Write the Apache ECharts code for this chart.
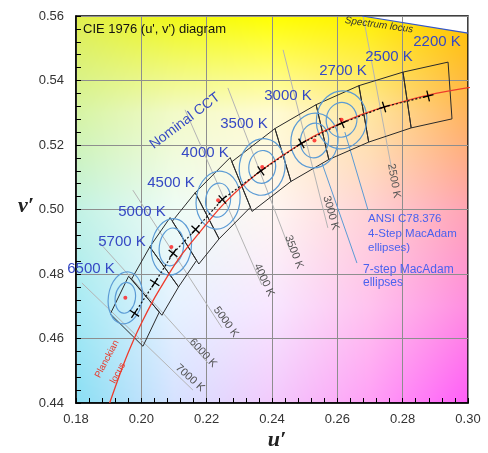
<!DOCTYPE html>
<html><head><meta charset="utf-8">
<script src="https://cdn.jsdelivr.net/npm/echarts@6/dist/echarts.min.js"></script>
<style>html,body{margin:0;padding:0;background:#fff}#c{width:488px;height:453px}</style>
</head><body><div id="c"></div>
<script>
// ================= DATA =================
const uTicks = [0.18, 0.20, 0.22, 0.24, 0.26, 0.28, 0.30];
const vTicks = [0.44, 0.46, 0.48, 0.50, 0.52, 0.54, 0.56];

// Planckian locus (u', v')
const planckT = [10000, 8000, 7000, 6500, 6000, 5700, 5000, 4500, 4000, 3500, 3000, 2700, 2500, 2200, 2000];
const planckU = [0.1903, 0.1946, 0.1981, 0.2004, 0.2033, 0.2054, 0.2114, 0.2176, 0.2251, 0.2357, 0.2505, 0.2625, 0.2722, 0.2878, 0.3051];
const planckV = [0.4400, 0.4521, 0.4606, 0.4655, 0.4712, 0.4749, 0.4847, 0.4926, 0.5016, 0.5113, 0.5214, 0.5274, 0.5311, 0.5355, 0.5386];

// Nominal CCT centres (crosses)
const nominalCCT = ['6500 K', '5700 K', '5000 K', '4500 K', '4000 K', '3500 K', '3000 K', '2700 K', '2500 K', '2200 K'];
const centerU = [0.1979, 0.2041, 0.2097, 0.2166, 0.2248, 0.2366, 0.2490, 0.2614, 0.2743, 0.2878];
const centerV = [0.4678, 0.4773, 0.4864, 0.4938, 0.5031, 0.5120, 0.5205, 0.5268, 0.5318, 0.5352];

// Quadrangle corners, one list of [u', v'] per nominal CCT
const quadCorners = [
  [[0.1961, 0.4793], [0.1905, 0.4676], [0.2005, 0.4576], [0.2055, 0.4682]],
  [[0.2026, 0.4884], [0.1970, 0.4784], [0.2063, 0.4672], [0.2114, 0.4760]],
  [[0.2088, 0.4975], [0.2026, 0.4884], [0.2114, 0.4760], [0.2169, 0.4842]],
  [[0.2165, 0.5052], [0.2095, 0.4964], [0.2176, 0.4831], [0.2238, 0.4909]],
  [[0.2272, 0.5161], [0.2165, 0.5052], [0.2238, 0.4909], [0.2334, 0.5007]],
  [[0.2409, 0.5251], [0.2277, 0.5148], [0.2339, 0.4994], [0.2458, 0.5087]],
  [[0.2535, 0.5325], [0.2409, 0.5251], [0.2458, 0.5087], [0.2574, 0.5155]],
  [[0.2666, 0.5384], [0.2535, 0.5325], [0.2574, 0.5155], [0.2696, 0.5209]],
  [[0.2801, 0.5426], [0.2666, 0.5384], [0.2696, 0.5209], [0.2826, 0.5253]],
  [[0.2939, 0.5457], [0.2801, 0.5426], [0.2826, 0.5253], [0.2951, 0.5281]]
];

// MacAdam ellipses: centres and semi-axes (u', v') for 7-step and 4-step
const ellipseU = [0.1951, 0.2092, 0.2235, 0.2370, 0.2530, 0.2613];
const ellipseV = [0.4726, 0.4884, 0.5029, 0.5132, 0.5214, 0.5278];
const ellipse7 = [[0.0052, 0.0081], [0.0061, 0.0088], [0.0067, 0.0090], [0.0070, 0.0088], [0.0072, 0.0085], [0.0077, 0.0090]];
const ellipse4 = [[0.0031, 0.0048], [0.0037, 0.0059], [0.0038, 0.0053], [0.0041, 0.0051], [0.0043, 0.0054], [0.0047, 0.0054]];

// Isotemperature lines
const isoLabels = ['2500 K', '3000 K', '3500 K', '4000 K', '5000 K', '6000 K', '7000 K'];
const isoStartU = [0.2679, 0.2434, 0.2265, 0.2134, 0.1974, 0.1873, 0.1818];
const isoStartV = [0.5600, 0.5495, 0.5377, 0.5309, 0.5060, 0.4896, 0.4772];
const isoEndU   = [0.2767, 0.2571, 0.2455, 0.2369, 0.2247, 0.2204, 0.2158];
const isoEndV   = [0.5122, 0.4943, 0.4874, 0.4766, 0.4633, 0.4524, 0.4440];

// Spectrum locus segment
const spectrumU = [0.2676, 0.3000];
const spectrumV = [0.5600, 0.5547];

// ================= LAYOUT / STYLE =================
const uMin = 0.18, uMax = 0.30, vMin = 0.44, vMax = 0.56;
const bgPalette = [
  ['#e0ee50', '#f0f818', '#ffff00', '#fff000', '#ffc400'],
  ['#d6f4a4', '#f2fac8', '#fffbd4', '#ffe6a0', '#ffb45c'],
  ['#c2f2e4', '#eefcf6', '#fff6f2', '#ffd2d4', '#ffa4b4'],
  ['#a6eaf4', '#e6f2ff', '#f8e6ff', '#ffc2ee', '#ff8ee0'],
  ['#8adff4', '#d6e2ff', '#f2cafc', '#ffa0f6', '#ff5ef8']
];
const leaderLines = [
  [[0.2623, 0.5240], [0.2694, 0.4998]],
  [[0.2553, 0.5144], [0.2660, 0.4834]]
];
const cctLabelPos = [[91, 269], [122, 242], [142, 212], [171, 183], [205, 153], [244, 124], [288, 96], [343, 71], [389, 57], [437, 42]];
const isoLabelPos = [[394, 181, -80], [331, 213, -74], [294, 252, -69], [264, 280, -65], [226, 322, -54], [203, 353, -47], [190, 378, -42]];

const FONT = 'Liberation Sans, Arial, sans-serif';
const BLUE = '#3548c4';
const deg = Math.PI / 180;

function makeBg(w, h) {
  const c = document.createElement('canvas');
  c.width = w; c.height = h;
  const ctx = c.getContext('2d');
  const img = ctx.createImageData(w, h);
  const rgb = bgPalette.map(r => r.map(hx => [parseInt(hx.slice(1, 3), 16), parseInt(hx.slice(3, 5), 16), parseInt(hx.slice(5, 7), 16)]));
  const R = rgb.length, C = rgb[0].length;
  for (let y = 0; y < h; y++) {
    const fy = y / (h - 1) * (R - 1), r0 = Math.min(Math.floor(fy), R - 2), ty = fy - r0;
    for (let x = 0; x < w; x++) {
      const fx = x / (w - 1) * (C - 1), c0 = Math.min(Math.floor(fx), C - 2), tx = fx - c0;
      const k = (y * w + x) * 4;
      for (let ch = 0; ch < 3; ch++) {
        const a = rgb[r0][c0][ch] * (1 - tx) + rgb[r0][c0 + 1][ch] * tx;
        const b = rgb[r0 + 1][c0][ch] * (1 - tx) + rgb[r0 + 1][c0 + 1][ch] * tx;
        img.data[k + ch] = a * (1 - ty) + b * ty;
      }
      img.data[k + 3] = 255;
    }
  }
  ctx.putImageData(img, 0, 0);
  return c;
}
const bgImage = makeBg(392, 387);

const chart = echarts.init(document.getElementById('c'), null, { renderer: 'canvas', width: 488, height: 453 });

function text(t, x, y, opt) {
  return Object.assign({
    type: 'text', x: x, y: y, rotation: (opt.rot || 0) * deg, silent: true, z: 100,
    style: { text: t, fill: opt.color || '#333', font: opt.font, align: opt.align || 'center', verticalAlign: 'middle' }
  }, {});
}

const graphics = [];
graphics.push(text('CIE 1976 (u\', v\') diagram', 83, 29, { font: '13px ' + FONT, color: '#111', align: 'left' }));
nominalCCT.forEach((t, i) => graphics.push(text(t, cctLabelPos[i][0], cctLabelPos[i][1], { font: '15px ' + FONT, color: BLUE })));
isoLabels.forEach((t, i) => graphics.push(text(t, isoLabelPos[i][0], isoLabelPos[i][1], { font: '11px ' + FONT, color: '#555', rot: isoLabelPos[i][2] })));
graphics.push(text('Nominal CCT', 185, 121, { font: '14px ' + FONT, color: BLUE, rot: 37 }));
graphics.push(text('Planckian', 107, 359, { font: '9.5px ' + FONT, color: '#e8382a', rot: 62 }));
graphics.push(text('locus', 118, 373, { font: '9.5px ' + FONT, color: '#e8382a', rot: 62 }));
graphics.push(text('Spectrum locus', 379, 25, { font: 'italic 10px ' + FONT, color: '#333', rot: -8 }));
graphics.push(text('ANSI C78.376', 368, 219, { font: '11.5px ' + FONT, color: '#4a62ee', align: 'left' }));
graphics.push(text('4-Step MacAdam', 368, 234, { font: '11.5px ' + FONT, color: '#4a62ee', align: 'left' }));
graphics.push(text('ellipses)', 368, 248, { font: '11.5px ' + FONT, color: '#4a62ee', align: 'left' }));
graphics.push(text('7-step MacAdam', 363, 270, { font: '12px ' + FONT, color: '#4a62ee', align: 'left' }));
graphics.push(text('ellipses', 363, 283, { font: '12px ' + FONT, color: '#4a62ee', align: 'left' }));
graphics.push(text('v\u2032', 26, 206, { font: 'italic bold 22px Liberation Serif, serif', color: '#222' }));
graphics.push(text('u\u2032', 277, 440, { font: 'italic bold 22px Liberation Serif, serif', color: '#222' }));

const axisCommon = {
  type: 'value', interval: 0.02,
  axisLine: { show: true, onZero: false, lineStyle: { color: '#000', width: 1.5 } },
  axisTick: { show: true, inside: true, length: 5, lineStyle: { color: '#000', width: 1 } },
  minorTick: { show: true, splitNumber: 5, length: 5, lineStyle: { color: '#000', width: 1 } },
  splitLine: { show: true, lineStyle: { color: '#8e8e8e', width: 1 } },
  axisLabel: { color: '#333', fontSize: 13, fontFamily: FONT, formatter: v => v.toFixed(2) }
};

chart.setOption({
  animation: false,
  grid: { left: 76, top: 16, right: 20, bottom: 50, show: true, borderColor: '#000', borderWidth: 1.5, backgroundColor: 'transparent' },
  xAxis: Object.assign({}, axisCommon, { min: uMin, max: uMax, axisLabel: Object.assign({}, axisCommon.axisLabel, { margin: 10 }) }),
  yAxis: Object.assign({}, axisCommon, { min: vMin, max: vMax, axisLabel: Object.assign({}, axisCommon.axisLabel, { margin: 12 }) }),
  graphic: graphics,
  series: [
    { // background colour field
      type: 'custom', z: -5, silent: true, data: [[uMin, vMin]],
      renderItem: (p, api) => {
        const a = api.coord([uMin, vMax]), b = api.coord([uMax, vMin]);
        return { type: 'image', style: { image: bgImage, x: a[0], y: a[1], width: b[0] - a[0], height: b[1] - a[1] } };
      }
    },
    { // white area beyond the spectrum locus
      type: 'custom', z: -4, silent: true, data: [[uMax, vMax]],
      renderItem: (p, api) => ({
        type: 'polygon',
        shape: { points: [api.coord([spectrumU[0], spectrumV[0]]), api.coord([spectrumU[1], spectrumV[1]]), api.coord([uMax, vMax])] },
        style: { fill: '#fff' }
      })
    },
    { // isotemperature lines
      type: 'custom', silent: true, z: 3,
      data: isoLabels.map((t, i) => [isoStartU[i], isoStartV[i], isoEndU[i], isoEndV[i]]),
      renderItem: (p, api) => {
        const a = api.coord([api.value(0), api.value(1)]), b = api.coord([api.value(2), api.value(3)]);
        return { type: 'line', shape: { x1: a[0], y1: a[1], x2: b[0], y2: b[1] }, style: { stroke: '#b4b4b4', lineWidth: 1 } };
      }
    },
    { // spectrum locus
      type: 'line', silent: true, z: 4, symbol: 'none',
      data: spectrumU.map((u, i) => [u, spectrumV[i]]),
      lineStyle: { color: '#3355cc', width: 1.2 }
    },
    { // leader lines
      type: 'custom', silent: true, z: 4,
      data: leaderLines.map(l => [l[0][0], l[0][1], l[1][0], l[1][1]]),
      renderItem: (p, api) => {
        const a = api.coord([api.value(0), api.value(1)]), b = api.coord([api.value(2), api.value(3)]);
        return { type: 'line', shape: { x1: a[0], y1: a[1], x2: b[0], y2: b[1] }, style: { stroke: '#5b9bd5', lineWidth: 1 } };
      }
    },
    { // quadrangles
      type: 'custom', silent: true, z: 5,
      data: centerU.map((u, i) => [u, centerV[i], i]),
      renderItem: (p, api) => {
        const q = quadCorners[api.value(2)];
        return { type: 'polygon', shape: { points: q.map(c => api.coord(c)) }, style: { fill: 'none', stroke: '#2a2a2a', lineWidth: 1 } };
      }
    },
    { // MacAdam ellipses
      type: 'custom', silent: true, z: 6,
      data: ellipseU.map((u, i) => [u, ellipseV[i], ellipse7[i][0], ellipse7[i][1], ellipse4[i][0], ellipse4[i][1]]),
      renderItem: (p, api) => {
        const c = api.coord([api.value(0), api.value(1)]);
        const o = api.size([api.value(2), api.value(3)]);
        const n = api.size([api.value(4), api.value(5)]);
        const st = { fill: 'none', stroke: '#5b9bd5', lineWidth: 1.2 };
        return { type: 'group', children: [
          { type: 'ellipse', x: c[0], y: c[1], rotation: -8 * deg, shape: { cx: 0, cy: 0, rx: o[0], ry: o[1] }, style: st },
          { type: 'ellipse', x: c[0], y: c[1], rotation: -8 * deg, shape: { cx: 0, cy: 0, rx: n[0], ry: n[1] }, style: st }
        ] };
      }
    },
    { // Planckian locus
      type: 'line', silent: true, z: 7, symbol: 'none', smooth: 0.3,
      data: planckU.map((u, i) => [u, planckV[i]]),
      lineStyle: { color: '#ee3b2c', width: 1.3 }
    },
    { // dotted line through nominal centres
      type: 'line', silent: true, z: 8, symbol: 'none',
      data: centerU.map((u, i) => [u, centerV[i]]),
      lineStyle: { color: '#111', width: 1.2, type: [2, 2] }
    },
    { // crosses at nominal centres
      type: 'custom', silent: true, z: 9,
      data: centerU.map((u, i) => [u, centerV[i]]),
      renderItem: (p, api) => {
        const i = p.dataIndex, n = centerU.length;
        const c = api.coord([centerU[i], centerV[i]]);
        const a = api.coord([centerU[Math.max(i - 1, 0)], centerV[Math.max(i - 1, 0)]]);
        const b = api.coord([centerU[Math.min(i + 1, n - 1)], centerV[Math.min(i + 1, n - 1)]]);
        const ang = Math.atan2(b[1] - a[1], b[0] - a[0]);
        const L = 5.5, dx = Math.cos(ang) * L, dy = Math.sin(ang) * L;
        const st = { stroke: '#000', lineWidth: 1.3 };
        return { type: 'group', children: [
          { type: 'line', shape: { x1: c[0] - dx, y1: c[1] - dy, x2: c[0] + dx, y2: c[1] + dy }, style: st },
          { type: 'line', shape: { x1: c[0] + dy, y1: c[1] - dx, x2: c[0] - dy, y2: c[1] + dx }, style: st }
        ] };
      }
    },
    { // ellipse centres
      type: 'scatter', silent: true, z: 10, symbolSize: 4,
      data: ellipseU.map((u, i) => [u, ellipseV[i]]),
      itemStyle: { color: '#ff1a1a' }
    }
  ]
});
</script></body></html>
